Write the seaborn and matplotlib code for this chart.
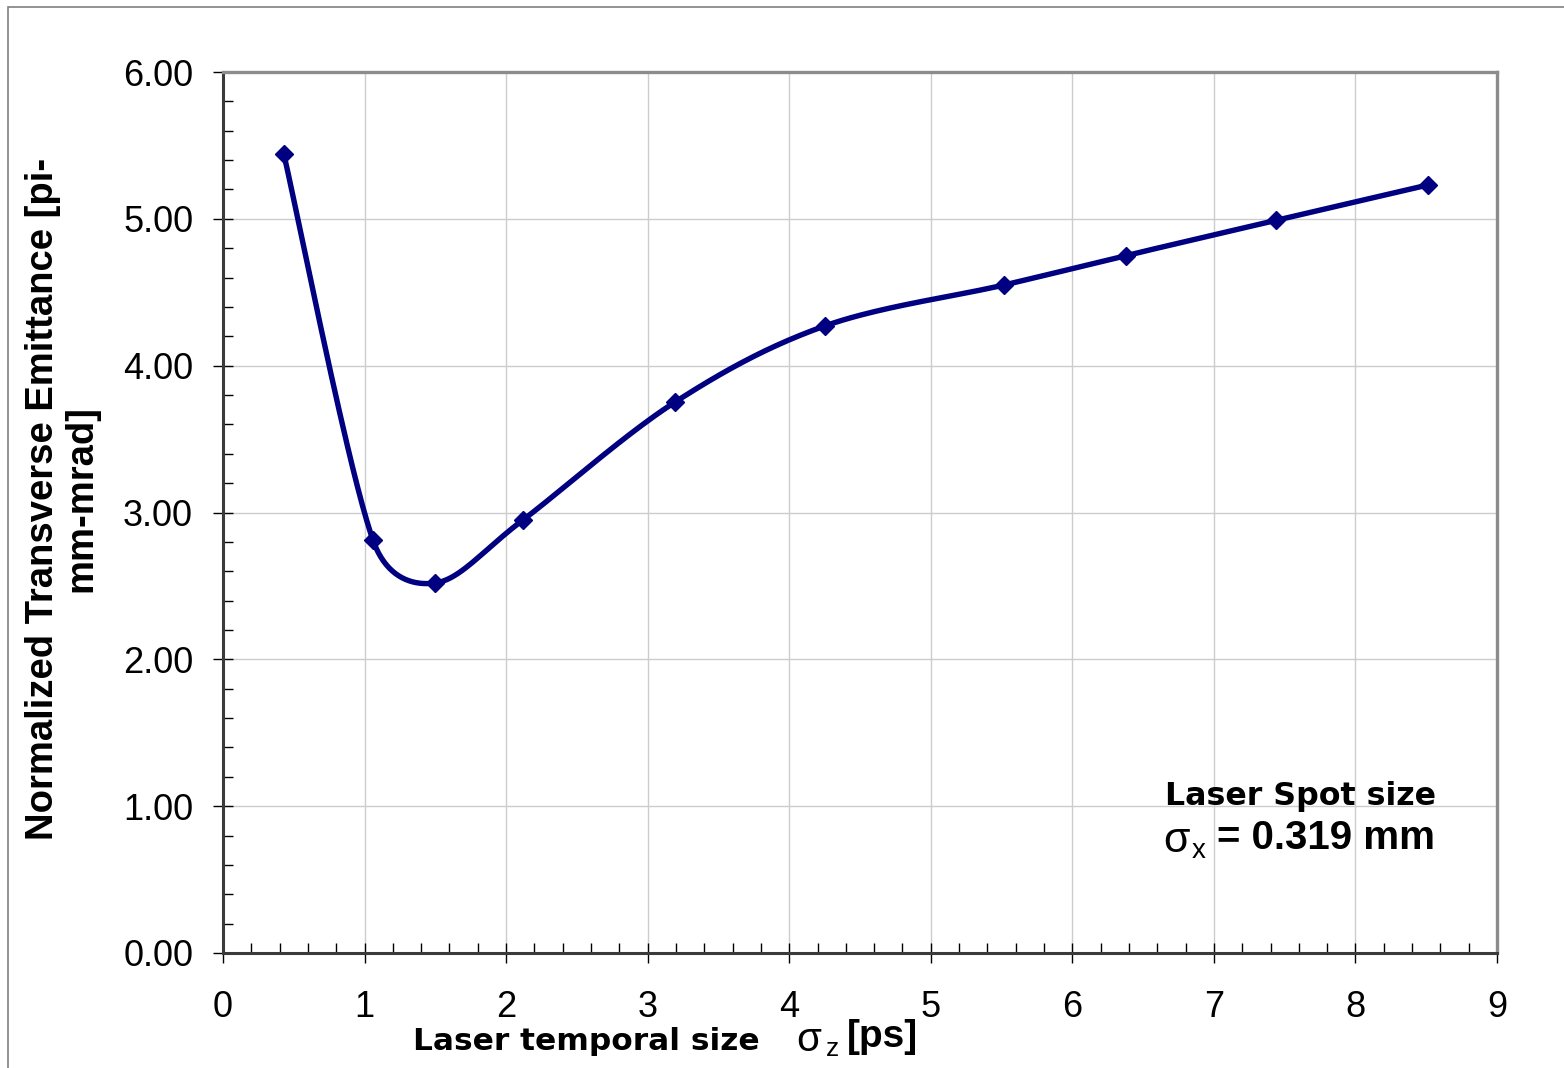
import numpy as np
import pandas as pd
import matplotlib
matplotlib.use("Agg")
import matplotlib.pyplot as plt
from matplotlib.ticker import MultipleLocator, FormatStrFormatter
from matplotlib.patches import Rectangle
import seaborn as sns

# ---- data ----
sigma_z_ps = [0.43, 1.06, 1.50, 2.12, 3.19, 4.25, 5.52, 6.38, 7.44, 8.51]
emittance = [5.44, 2.81, 2.52, 2.95, 3.75, 4.27, 4.55, 4.75, 4.99, 5.23]
x_ticks = [0, 1, 2, 3, 4, 5, 6, 7, 8, 9]
y_ticks = [0.0, 1.0, 2.0, 3.0, 4.0, 5.0, 6.0]

df = pd.DataFrame({"sigma_z": sigma_z_ps, "emit": emittance})

sns.set_theme(style="white")
plt.rcParams["font.family"] = ["Liberation Sans", "DejaVu Sans"]
plt.rcParams["text.color"] = "black"
plt.rcParams["axes.labelcolor"] = "black"
plt.rcParams["xtick.color"] = "black"
plt.rcParams["ytick.color"] = "black"

W, H = 1564, 1068
fig = plt.figure(figsize=(W / 100, H / 100), dpi=100)
ax = fig.add_axes([223 / W, 1 - 953 / H, (1497 - 223) / W, (953 - 72) / H])

ax.set_xlim(x_ticks[0], x_ticks[-1])
ax.set_ylim(y_ticks[0], y_ticks[-1])


def excel_smooth(x, y, n=40):
    """Excel-like smoothed line: Bezier segments with clamped tangents, computed in display space."""
    P = ax.transData.transform(np.column_stack([x, y]))
    out = []
    m = len(P)
    for i in range(m - 1):
        p0 = P[i - 1] if i > 0 else P[i]
        p1 = P[i]
        p2 = P[i + 1]
        p3 = P[i + 2] if i + 2 < m else P[i + 1]
        d02 = np.linalg.norm(p2 - p0)
        d12 = np.linalg.norm(p2 - p1)
        d13 = np.linalg.norm(p3 - p1)
        f1 = 1 / 6
        if d02 / 6 > d12 / 2 and d02 > 0:
            f1 = d12 / (2 * d02)
        f2 = 1 / 6
        if d13 / 6 > d12 / 2 and d13 > 0:
            f2 = d12 / (2 * d13)
        c1 = p1 + (p2 - p0) * f1
        c2 = p2 - (p3 - p1) * f2
        t = np.linspace(0, 1, n)[:, None]
        seg = ((1 - t) ** 3) * p1 + 3 * ((1 - t) ** 2) * t * c1 + 3 * (1 - t) * t ** 2 * c2 + t ** 3 * p2
        if i > 0:
            seg = seg[1:]
        out.append(seg)
    pts = ax.transData.inverted().transform(np.vstack(out))
    return pts[:, 0], pts[:, 1]


xs, ys = excel_smooth(df["sigma_z"].values, df["emit"].values)
smooth = pd.DataFrame({"x": xs, "y": ys})

navy = "#000080"
sns.lineplot(data=smooth, x="x", y="y", sort=False, estimator=None, ax=ax,
             color=navy, linewidth=3.9, zorder=3)
ax.plot(df["sigma_z"], df["emit"], linestyle="none", marker="D", markersize=9.5,
        color=navy, markeredgecolor=navy, zorder=4)

ax.set_xlim(x_ticks[0], x_ticks[-1])
ax.set_ylim(y_ticks[0], y_ticks[-1])
ax.set_xticks(x_ticks)
ax.set_yticks(y_ticks)
ax.yaxis.set_major_formatter(FormatStrFormatter("%.2f"))
ax.xaxis.set_minor_locator(MultipleLocator(0.2))
ax.yaxis.set_minor_locator(MultipleLocator(0.2))
ax.set_xlabel("")
ax.set_ylabel("")

ax.grid(True, which="major", color="#cccccc", linewidth=1.0)
ax.set_axisbelow(True)

for s in ["left", "bottom"]:
    ax.spines[s].set_color("#3a3a3a")
    ax.spines[s].set_linewidth(2.2)
for s in ["top", "right"]:
    ax.spines[s].set_color("#8c8c8c")
    ax.spines[s].set_linewidth(2.4)

ax.tick_params(axis="both", which="major", direction="inout", length=15, width=1.0,
               color="black", labelsize=26, labelcolor="black")
ax.tick_params(axis="y", which="major", pad=14)
ax.tick_params(axis="x", which="major", pad=19)
ax.tick_params(axis="both", which="minor", direction="in", length=7, width=1.0, color="black")
ax.tick_params(bottom=True, left=True, top=False, right=False, which="both")

# y-axis label (two lines)
fig.text(62 / W, 1 - 499 / H, "Normalized Transverse Emittance [pi-\nmm-mrad]",
         rotation=90, ha="center", va="center", multialignment="center",
         fontsize=27.5, fontweight="bold", family=["Liberation Sans", "DejaVu Sans"],
         linespacing=1.1)

# x-axis label pieces
fig.text(413 / W, 1 - 1041 / H, "Laser temporal size", ha="left", va="center",
         fontsize=22.5, fontweight="bold", family=["DejaVu Sans"])
fig.text(796 / W, 1 - 1040 / H, "σ", ha="left", va="center",
         fontsize=29, family=["Liberation Sans", "DejaVu Sans"])
fig.text(826 / W, 1 - 1049 / H, "z", ha="left", va="center",
         fontsize=19, family=["Liberation Sans", "DejaVu Sans"])
fig.text(847 / W, 1 - 1037 / H, "[ps]", ha="left", va="center",
         fontsize=28, fontweight="bold", family=["Liberation Sans", "DejaVu Sans"])

# annotation
fig.text(1165 / W, 1 - 797 / H, "Laser Spot size", ha="left", va="center",
         fontsize=22.8, fontweight="bold", family=["DejaVu Sans"])
fig.text(1163 / W, 1 - 841 / H, "σ", ha="left", va="center",
         fontsize=31, family=["Liberation Sans", "DejaVu Sans"])
fig.text(1192 / W, 1 - 851 / H, "x", ha="left", va="center",
         fontsize=20, family=["Liberation Sans", "DejaVu Sans"])
fig.text(1217 / W, 1 - 838 / H, "= 0.319 mm", ha="left", va="center",
         fontsize=29, fontweight="bold", family=["Liberation Sans", "DejaVu Sans"])

# outer frame of the chart area
fig.patches.append(Rectangle((8 / W, -0.1), 1.2, 1 - 7 / H + 0.1, transform=fig.transFigure,
                             fill=False, edgecolor="#808080", linewidth=1.2, zorder=0))

fig.savefig("out.png", dpi=100)
